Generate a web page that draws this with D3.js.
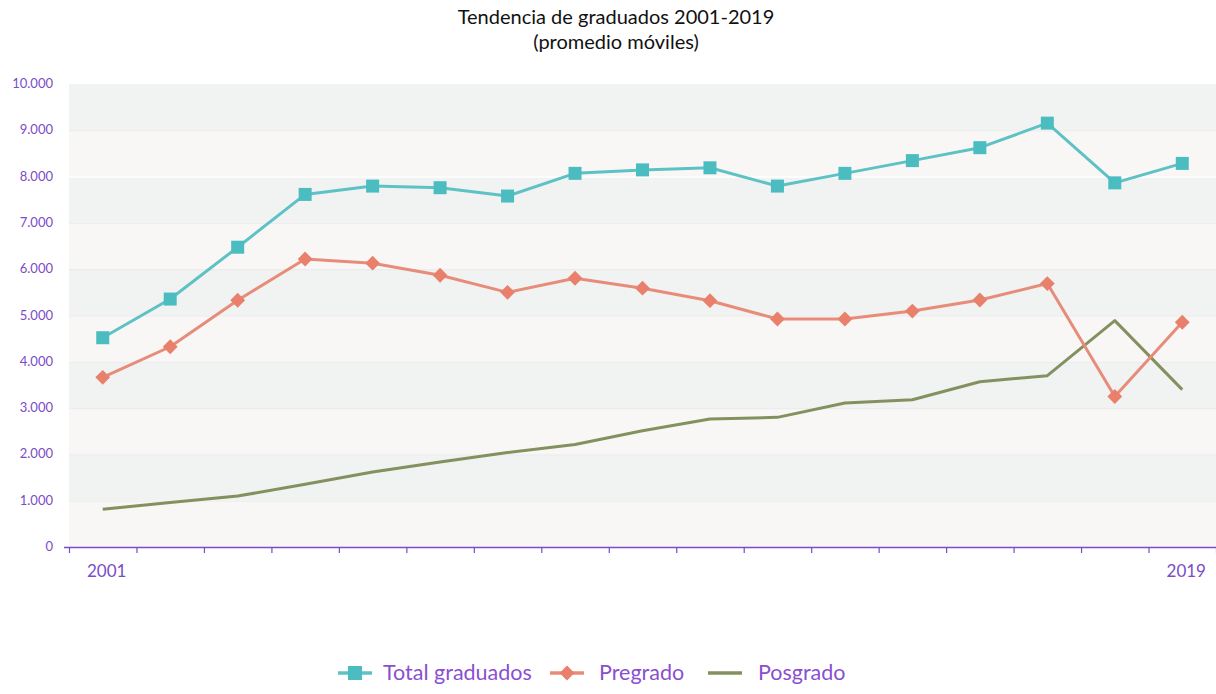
<!DOCTYPE html>
<html>
<head>
<meta charset="utf-8">
<style>
body { margin: 0; background: #ffffff; }
#vis { margin: 0; }
.title { font-family: Lato, "Open Sans", sans-serif; font-size: 20px; fill: #111; }
.ylab { font-family: Lato, sans-serif; font-size: 13px; fill: #7b4cc6; }
.xlab { font-family: Lato, sans-serif; font-size: 17px; fill: #7b4cc6; }
.leg { font-family: Lato, sans-serif; font-size: 21.5px; fill: #8a4fd0; }
</style>
</head>
<body>
<div id="vis"><svg></svg></div>
<script src="https://d3js.org/d3.v7.min.js"></script>
<script>

// moving-average periods, 2001 ... 2019
var periods = d3.range(17).map(function(i) { return "p" + i; });
var tickLabels = ["2001", "", "", "", "", "", "", "", "", "", "", "", "", "", "", "", "2019"];

var totalGraduados = [4520, 5355, 6475, 7615, 7795, 7760, 7580, 8070, 8145, 8190, 7795, 8070, 8345, 8625, 9155, 7865, 8285];
var pregrado = [3665, 4325, 5330, 6220, 6130, 5870, 5500, 5805, 5590, 5320, 4925, 4925, 5095, 5335, 5690, 3250, 4855];
var posgrado = [815, 960, 1100, 1355, 1620, 1835, 2040, 2215, 2510, 2765, 2800, 3110, 3180, 3570, 3700, 4890, 3400];

var yTicks = [0, 1000, 2000, 3000, 4000, 5000, 6000, 7000, 8000, 9000, 10000];

var width = 1216, height = 694;
var plotLeft = 69, plotRight = 1216, plotTop = 84, plotBottom = 547;

var colTotal = "#5ec2c5", colTotalMark = "#4bbdc0";
var colPre = "#e88c7a", colPreMark = "#e8806c";
var colPos = "#83915f";
var purple = "#7b4cc6";

var svg = d3.select("svg").attr("width", width).attr("height", height);

var x = d3.scaleBand().domain(periods).range([plotLeft, plotRight]).padding(0);
var xEdge = d3.scaleLinear().domain([0, periods.length]).range([plotLeft, plotRight]);
var y = d3.scaleLinear().domain([0, 10000]).range([plotBottom, plotTop]);

var locale = d3.formatLocale({decimal: ",", thousands: ".", grouping: [3], currency: ["$", ""]});
var fmt = locale.format(",d");

function cx(i) { return x(periods[i]) + x.bandwidth() / 2; }

// background bands
svg.append("g").selectAll("rect")
    .data(yTicks.slice(0, -1))
    .enter().append("rect")
    .attr("x", plotLeft)
    .attr("width", plotRight - plotLeft)
    .attr("y", function(d) { return y(d + 1000); })
    .attr("height", function(d) { return y(d) - y(d + 1000); })
    .attr("fill", function(d, i) { return i % 2 == 0 ? "#f8f7f6" : "#f1f2f2"; });

// grid lines
svg.append("g").selectAll("line")
    .data(yTicks.slice(1, -1))
    .enter().append("line")
    .attr("x1", plotLeft).attr("x2", plotRight)
    .attr("y1", function(d) { return y(d) + 0.5; })
    .attr("y2", function(d) { return y(d) + 0.5; })
    .attr("stroke", function(d) { return d == 8000 ? "#ffffff" : "#ebebeb"; })
    .attr("stroke-width", function(d) { return d == 8000 ? 1.5 : 1; });

// y labels
svg.append("g").selectAll("text")
    .data(yTicks)
    .enter().append("text")
    .attr("class", "ylab")
    .attr("x", 53)
    .attr("y", function(d) { return y(d) + 4; })
    .attr("text-anchor", "end")
    .text(function(d) { return fmt(d); });

// x axis
var xAxis = svg.append("g")
    .attr("transform", "translate(0," + plotBottom + ")")
    .call(d3.axisBottom(xEdge).tickValues(d3.range(periods.length + 1)).tickSize(6).tickFormat(""));
xAxis.select(".domain").remove();
xAxis.selectAll(".tick line").attr("stroke", purple).attr("stroke-width", 1.2);
svg.append("line")
    .attr("x1", 64).attr("x2", plotRight)
    .attr("y1", plotBottom + 0.5).attr("y2", plotBottom + 0.5)
    .attr("stroke", purple).attr("stroke-width", 1.5);

svg.append("g").selectAll("text")
    .data(periods)
    .enter().append("text")
    .attr("class", "xlab")
    .attr("x", function(d, i) { return cx(i) + 4; })
    .attr("y", 577)
    .attr("text-anchor", "middle")
    .text(function(d, i) { return tickLabels[i]; });

// lines
var line = d3.line()
    .x(function(d, i) { return cx(i); })
    .y(function(d) { return y(d); });

svg.append("path").datum(posgrado)
    .attr("d", line).attr("fill", "none")
    .attr("stroke", colPos).attr("stroke-width", 3).attr("stroke-linejoin", "round");

svg.append("path").datum(pregrado)
    .attr("d", line).attr("fill", "none")
    .attr("stroke", colPre).attr("stroke-width", 3).attr("stroke-linejoin", "round");

svg.append("path").datum(totalGraduados)
    .attr("d", line).attr("fill", "none")
    .attr("stroke", colTotal).attr("stroke-width", 3).attr("stroke-linejoin", "round");

// markers
var diamond = d3.symbol().type(d3.symbolSquare).size(110);
svg.append("g").selectAll("path")
    .data(pregrado)
    .enter().append("path")
    .attr("d", diamond)
    .attr("fill", colPreMark)
    .attr("transform", function(d, i) { return "translate(" + cx(i) + "," + y(d) + ") rotate(45)"; });

svg.append("g").selectAll("rect")
    .data(totalGraduados)
    .enter().append("rect")
    .attr("width", 13).attr("height", 13)
    .attr("x", function(d, i) { return cx(i) - 6.5; })
    .attr("y", function(d) { return y(d) - 6.5; })
    .attr("fill", colTotalMark);

// title
svg.append("text").attr("class", "title")
    .attr("x", 616).attr("y", 24).attr("text-anchor", "middle")
    .text("Tendencia de graduados 2001-2019");
svg.append("text").attr("class", "title")
    .attr("x", 616).attr("y", 49).attr("text-anchor", "middle")
    .text("(promedio móviles)");

// legend
var legendItems = [
  {name: "Total graduados", color: colTotal, mark: "square", lx: 338, tx: 383},
  {name: "Pregrado", color: colPre, mark: "diamond", lx: 550, tx: 599},
  {name: "Posgrado", color: colPos, mark: "none", lx: 708, tx: 758}
];
var ly = 673;
var leg = svg.append("g").selectAll("g").data(legendItems).enter().append("g");
leg.append("line")
    .attr("x1", function(d) { return d.lx; })
    .attr("x2", function(d) { return d.lx + 34; })
    .attr("y1", ly).attr("y2", ly)
    .attr("stroke", function(d) { return d.color; })
    .attr("stroke-width", 3.5);
leg.filter(function(d) { return d.mark == "square"; })
    .append("rect")
    .attr("x", function(d) { return d.lx + 17 - 7; })
    .attr("y", ly - 7).attr("width", 14).attr("height", 14)
    .attr("fill", colTotalMark);
leg.filter(function(d) { return d.mark == "diamond"; })
    .append("path")
    .attr("d", diamond)
    .attr("fill", colPreMark)
    .attr("transform", function(d) { return "translate(" + (d.lx + 17) + "," + ly + ") rotate(45)"; });
leg.append("text")
    .attr("class", "leg")
    .attr("x", function(d) { return d.tx; })
    .attr("y", ly + 7)
    .text(function(d) { return d.name; });

</script>
</body>
</html>
